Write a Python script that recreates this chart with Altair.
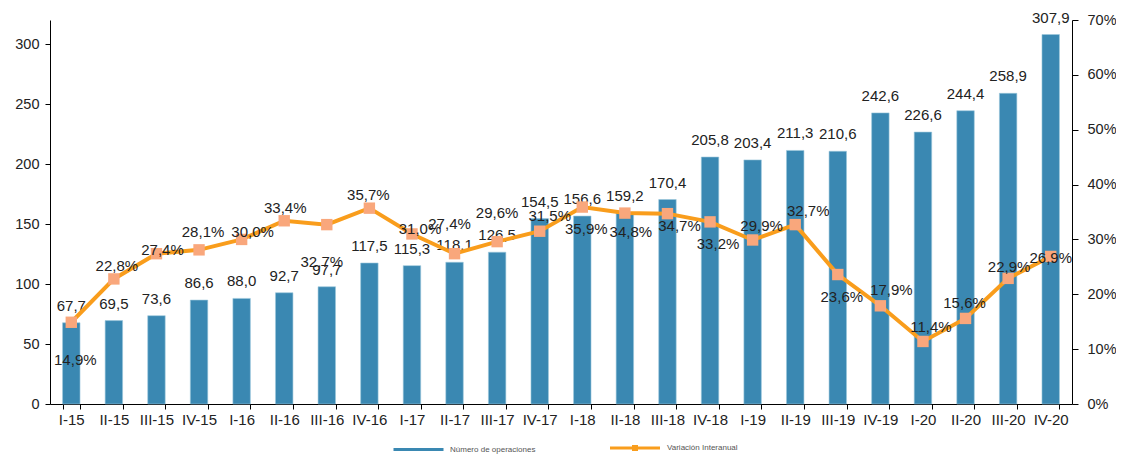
import altair as alt
import pandas as pd

categories = ["I-15", "II-15", "III-15", "IV-15", "I-16", "II-16", "III-16", "IV-16",
              "I-17", "II-17", "III-17", "IV-17", "I-18", "II-18", "III-18", "IV-18",
              "I-19", "II-19", "III-19", "IV-19", "I-20", "II-20", "III-20", "IV-20"]
operaciones = [67.7, 69.5, 73.6, 86.6, 88.0, 92.7, 97.7, 117.5,
               115.3, 118.1, 126.5, 154.5, 156.6, 159.2, 170.4, 205.8,
               203.4, 211.3, 210.6, 242.6, 226.6, 244.4, 258.9, 307.9]
variacion = [14.9, 22.8, 27.4, 28.1, 30.0, 33.4, 32.7, 35.7,
             31.0, 27.4, 29.6, 31.5, 35.9, 34.8, 34.7, 33.2,
             29.9, 32.7, 23.6, 17.9, 11.4, 15.6, 22.9, 26.9]

# label placement (pixel offsets of the percentage labels from their markers)
label_dx = [4, 3, 6, 4, 11, 1, -5, -1, 8, -5, 0, 10, 4, 6, 12, 8, 9, 13, 4, 11, 8, -1, 1, 0]
label_dy = [38, -13, -4, -18, -7, -13, 37, -13, -5, -30, -29, -15, 22, 19, 12, 22, -14, -14, 22, -16, -14, -15, -11, 2]

BAR = "#3a88b2"
ORANGE = "#f99d1c"
MARKER = "#f9a77c"
FONT = "Liberation Sans"

df = pd.DataFrame({
    "cat": categories,
    "ops": operaciones,
    "pct": variacion,
    "s1": "Número de operaciones",
    "s2": "Variación Interanual",
})

xscale = alt.Scale(paddingInner=0.59, paddingOuter=0.295)
xaxis = alt.Axis(title=None, labelAngle=0, tickBand="extent", labelFontSize=15,
                 labelColor="#222", labelFont=FONT, domainColor="#000", tickColor="#000",
                 tickSize=5, labelPadding=3, domainWidth=1)
xenc = alt.X("cat:N", sort=categories, scale=xscale, axis=xaxis)

yleft = alt.Y("ops:Q", scale=alt.Scale(domain=[0, 320], nice=False),
              axis=alt.Axis(title=None, orient="left", values=[0, 50, 100, 150, 200, 250, 300],
                            grid=False, labelFontSize=14.5, labelColor="#222", labelFont=FONT,
                            domainColor="#000", tickColor="#000", tickSize=5, labelPadding=6))
yright = alt.Y("pct:Q", scale=alt.Scale(domain=[0, 70], nice=False),
               axis=alt.Axis(title=None, orient="right", values=[0, 10, 20, 30, 40, 50, 60, 70],
                             labelExpr="datum.value + '%'", grid=False, labelFontSize=14.5,
                             labelColor="#222", labelFont=FONT, domainColor="#000",
                             tickColor="#000", tickSize=6, labelPadding=9))

base = alt.Chart(df)

bars = base.mark_bar(stroke="#9cc7dc", strokeWidth=0.6).encode(
    x=xenc,
    y=yleft,
    fill=alt.Fill("s1:N", scale=alt.Scale(domain=["Número de operaciones"], range=[BAR]),
                  legend=alt.Legend(title=None, orient="none", legendX=342, legendY=403,
                                    symbolType="stroke", symbolSize=2500, symbolStrokeWidth=3,
                                    symbolStrokeColor=BAR, labelFontSize=8, labelColor="#555",
                                    labelFont=FONT, padding=0, labelOffset=5)),
)

bar_labels = base.mark_text(dy=-17, fontSize=15, font=FONT, color="#222", baseline="middle").transform_calculate(
    lbl="replace(format(datum.ops, '.1f'), '.', ',')"
).encode(x=xenc, y=yleft, text="lbl:N")

left = alt.layer(bars, bar_labels)

line = base.mark_line(strokeWidth=4).encode(
    x=xenc,
    y=yright,
    stroke=alt.Stroke("s2:N", scale=alt.Scale(domain=["Variación Interanual"], range=[ORANGE]),
                      legend=alt.Legend(title=None, orient="none", legendX=560, legendY=403,
                                        symbolType="M-1,-0.06H1V0.06H-1Z M-0.12,-0.12H0.12V0.12H-0.12Z",
                                        symbolSize=2500, symbolStrokeWidth=0,
                                        symbolFillColor=ORANGE, labelFontSize=8, labelColor="#555",
                                        labelFont=FONT, padding=0, labelOffset=7)),
)

markers = base.mark_square(size=130, color=MARKER, opacity=1).encode(x=xenc, y=yright)

pct_layers = []
for c, dx, dy in zip(categories, label_dx, label_dy):
    pct_layers.append(
        base.transform_filter(alt.datum.cat == c).transform_calculate(
            lbl="replace(format(datum.pct, '.1f'), '.', ',') + '%'"
        ).mark_text(fontSize=15, font=FONT, color="#222", baseline="middle", dx=dx, dy=dy).encode(
            x=xenc, y=yright, text="lbl:N")
    )

right = alt.layer(line, markers, *pct_layers)

chart = alt.layer(left, right).resolve_scale(y="independent").properties(
    width=1022, height=384,
    autosize=alt.AutoSizeParams(type="none"),
    padding={"left": 42, "top": 12, "right": 44, "bottom": 51},
    background="white",
).configure_view(stroke=None)

chart.save("out.html", embed_options={"renderer": "svg", "actions": False})
